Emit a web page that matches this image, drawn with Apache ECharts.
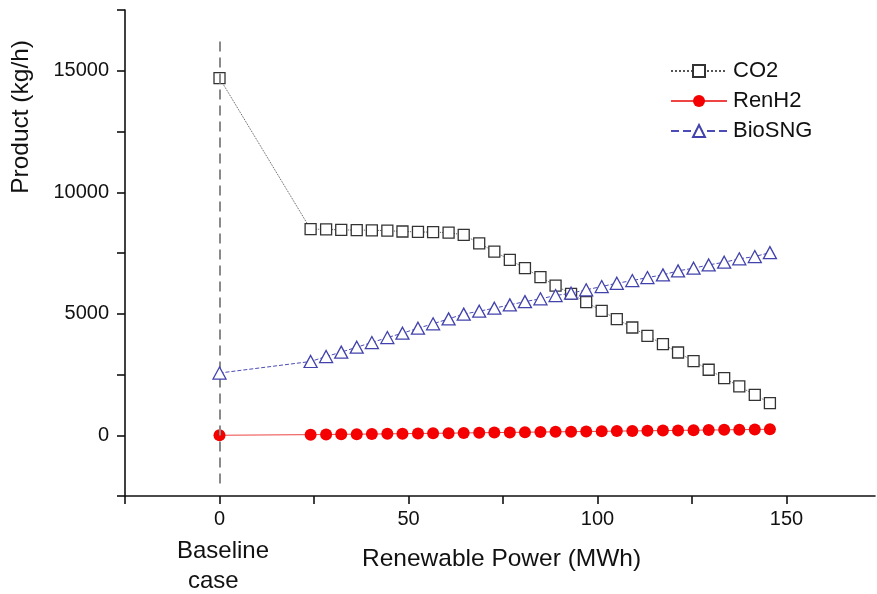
<!DOCTYPE html>
<html>
<head>
<meta charset="utf-8">
<script src="https://cdn.jsdelivr.net/npm/echarts@6/dist/echarts.min.js"></script>
<style>
html,body{margin:0;padding:0;background:#fff;}
#chart{width:877px;height:594px;}
</style>
</head>
<body>
<div id="chart"></div>
<script>
// Renewable power (MWh); 0 = baseline case
const powerX = [0, 24.1, 28.2, 32.2, 36.3, 40.3, 44.4, 48.4, 52.5, 56.5, 60.6, 64.6, 68.7, 72.7, 76.8, 80.8,
  84.9, 88.9, 93.0, 97.0, 101.1, 105.1, 109.2, 113.2, 117.3, 121.3, 125.4, 129.4, 133.5, 137.5, 141.6, 145.6];
const co2 = [14700, 8480, 8475, 8450, 8445, 8435, 8420, 8385, 8370, 8355, 8340, 8245, 7900, 7560, 7215, 6875,
  6505, 6160, 5820, 5475, 5120, 4775, 4435, 4090, 3750, 3405, 3050, 2695, 2350, 2010, 1665, 1325];
const renH2 = [0, 25, 30, 38, 45, 50, 57, 66, 72, 80, 86, 95, 103, 110, 117, 126,
  132, 140, 148, 155, 162, 171, 178, 185, 192, 200, 208, 214, 223, 230, 238, 248];
const bioSNG = [2560, 3035, 3240, 3420, 3625, 3815, 4020, 4200, 4405, 4585, 4790, 4985, 5105, 5230, 5365, 5500,
  5615, 5750, 5845, 5985, 6120, 6255, 6365, 6490, 6600, 6765, 6875, 7010, 7120, 7260, 7355, 7515];
const seriesNames = ['CO2', 'RenH2', 'BioSNG'];
const xTickLabels = [0, 50, 100, 150];
const xTicks = [-25, 0, 25, 50, 75, 100, 125, 150];
const yTickLabels = [0, 5000, 10000, 15000];
const baselineLine = [[0, 16200], [0, -2100]];

const pairs = arr => powerX.map((x, i) => [x, arr[i]]);
const FONT = '"Liberation Sans", Arial, sans-serif';

const chart = echarts.init(document.getElementById('chart'), null, {renderer: 'canvas'});
chart.setOption({
  animation: false,
  backgroundColor: '#fff',
  grid: {left: 125, top: 10, right: 2, bottom: 98, containLabel: false},
  legend: {
    orient: 'vertical', left: 665, top: 55,
    itemWidth: 56, itemHeight: 15, itemGap: 8,
    textStyle: {fontFamily: FONT, fontSize: 22, color: '#111', padding: [0, 0, 0, 1]},
    data: seriesNames
  },
  xAxis: {
    type: 'value', min: -25, max: 173.4, interval: 25,
    axisLine: {onZero: false, lineStyle: {color: '#111', width: 1.6}},
    axisTick: {inside: false, length: 8, customValues: xTicks, lineStyle: {color: '#111', width: 1.6}},
    splitLine: {show: false},
    axisLabel: {
      margin: 13, fontFamily: FONT, fontSize: 20, color: '#111', customValues: xTickLabels,
      formatter: v => xTickLabels.includes(v) ? String(v) : ''
    }
  },
  yAxis: {
    type: 'value', min: -2500, max: 17500, interval: 2500,
    axisLine: {show: true, onZero: false, lineStyle: {color: '#111', width: 1.6}},
    axisTick: {show: true, inside: false, length: 8, lineStyle: {color: '#111', width: 1.6}},
    splitLine: {show: false},
    axisLabel: {
      margin: 16, fontFamily: FONT, fontSize: 20, color: '#111',
      formatter: v => yTickLabels.includes(v) ? String(v) : ''
    }
  },
  graphic: [
    {type: 'text', left: 9, top: 40, rotation: Math.PI / 2,
      style: {text: 'Product (kg/h)', fontFamily: FONT, fontSize: 24.5, fill: '#111'}},
    {type: 'text', left: 177, top: 539,
      style: {text: 'Baseline', fontFamily: FONT, fontSize: 24, fill: '#111'}},
    {type: 'text', left: 188, top: 569,
      style: {text: 'case', fontFamily: FONT, fontSize: 24, fill: '#111'}},
    {type: 'text', left: 362, top: 547,
      style: {text: 'Renewable Power (MWh)', fontFamily: FONT, fontSize: 24.5, fill: '#111'}}
  ],
  series: [
    {
      name: 'CO2', type: 'line', data: pairs(co2), showAllSymbol: true,
      symbol: 'rect', symbolSize: 11, z: 3,
      itemStyle: {color: '#fff', borderColor: '#333', borderWidth: 1.3},
      lineStyle: {color: '#555', width: 1, type: 'dotted'},
      markLine: {
        silent: true, symbol: 'none', label: {show: false},
        lineStyle: {color: '#8a8a8a', width: 2, type: [10, 6]},
        data: [[{coord: baselineLine[0]}, {coord: baselineLine[1]}]]
      }
    },
    {
      name: 'RenH2', type: 'line', data: pairs(renH2), showAllSymbol: true,
      symbol: 'circle', symbolSize: 12, z: 4,
      itemStyle: {color: '#f40000', borderColor: '#f40000', borderWidth: 0},
      lineStyle: {color: '#e44', width: 1, type: 'solid'}
    },
    {
      name: 'BioSNG', type: 'line', data: pairs(bioSNG), showAllSymbol: true,
      symbol: 'triangle', symbolSize: [13, 12], z: 5,
      itemStyle: {color: '#fff', borderColor: '#4242ac', borderWidth: 1.3},
      lineStyle: {color: '#4c4cb8', width: 1, type: 'dashed'}
    }
  ]
});
</script>
</body>
</html>
